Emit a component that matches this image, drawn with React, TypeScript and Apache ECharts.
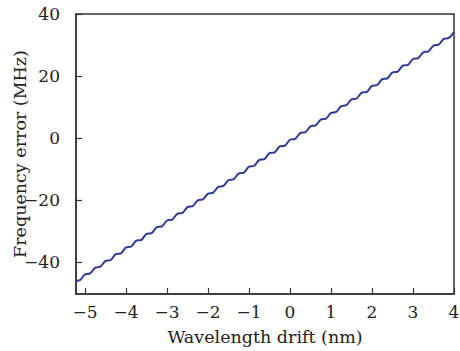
import React, { useEffect, useRef } from "react";
import * as echarts from "echarts";

const wavelength: number[] = [
  -5.25, -5.125, -5.0, -4.875, -4.75, -4.625, -4.5, -4.375, -4.25, -4.125,
  -4.0, -3.875, -3.75, -3.625, -3.5, -3.375, -3.25, -3.125, -3.0, -2.875,
  -2.75, -2.625, -2.5, -2.375, -2.25, -2.125, -2.0, -1.875, -1.75, -1.625,
  -1.5, -1.375, -1.25, -1.125, -1.0, -0.875, -0.75, -0.625, -0.5, -0.375,
  -0.25, -0.125, 0.0, 0.125, 0.25, 0.375, 0.5, 0.625, 0.75, 0.875,
  1.0, 1.125, 1.25, 1.375, 1.5, 1.625, 1.75, 1.875, 2.0, 2.125,
  2.25, 2.375, 2.5, 2.625, 2.75, 2.875, 3.0, 3.125, 3.25, 3.375,
  3.5, 3.625, 3.75, 3.875, 4.0,
];

const freqError: number[] = [
  -46.22, -45.94, -44.05, -43.76, -41.88, -41.59, -39.7, -39.42, -37.53, -37.25,
  -35.36, -35.07, -33.19, -32.9, -31.01, -30.73, -28.84, -28.56, -26.67, -26.38,
  -24.5, -24.21, -22.32, -22.04, -20.15, -19.87, -17.98, -17.69, -15.81, -15.52,
  -13.63, -13.35, -11.46, -11.18, -9.29, -9.0, -7.12, -6.83, -4.94, -4.66,
  -2.77, -2.49, -0.6, -0.31, 1.57, 1.86, 3.75, 4.03, 5.92, 6.2,
  8.09, 8.38, 10.26, 10.55, 12.44, 12.72, 14.61, 14.89, 16.78, 17.07,
  18.95, 19.24, 21.13, 21.41, 23.3, 23.58, 25.47, 25.76, 27.64, 27.93,
  29.82, 30.1, 31.99, 32.27, 34.16,
];

const xTicks: number[] = [-5, -4, -3, -2, -1, 0, 1, 2, 3, 4];
const yTicks: number[] = [-40, -20, 0, 20, 40];
const yTitle = "Frequency error (MHz)";

const FONT = "'DejaVu Serif', 'Liberation Serif', serif";
const AXIS_COLOR = "#333333";

const fmt = (v: number | string) => String(v).replace("-", "\u2212");

export default function App() {
  const ref = useRef<HTMLDivElement>(null);

  useEffect(() => {
    if (!ref.current) return;
    const chart = echarts.init(ref.current, undefined, { renderer: "svg" });
    chart.setOption({
      animation: false,
      backgroundColor: "#ffffff",
      grid: {
        left: 76,
        right: 6,
        top: 14,
        bottom: 57,
        containLabel: false,
        outerBoundsMode: "none",
        show: true,
        borderColor: AXIS_COLOR,
        borderWidth: 1.5,
        backgroundColor: "transparent",
      },
      graphic: [
        {
          type: "text",
          x: 20,
          y: 154,
          rotation: Math.PI / 2,
          style: {
            text: yTitle,
            fontFamily: FONT,
            fontSize: 17.5,
            fill: "#222",
            align: "center",
            verticalAlign: "middle",
          },
        },
      ],
      xAxis: {
        type: "value",
        min: -5.22,
        max: 4,
        name: "Wavelength drift (nm)",
        nameLocation: "middle",
        nameGap: 34,
        nameTextStyle: { fontFamily: FONT, fontSize: 17.5, color: "#222" },
        axisLine: { show: true, onZero: false, lineStyle: { color: AXIS_COLOR, width: 1.5 } },
        axisTick: {
          show: true,
          inside: true,
          length: 6,
          customValues: xTicks,
          lineStyle: { color: AXIS_COLOR, width: 1.2 },
        },
        axisLabel: {
          customValues: xTicks,
          formatter: (v: number) => fmt(v),
          fontFamily: FONT,
          fontSize: 17,
          color: "#222",
          margin: 9,
          showMinLabel: true,
          showMaxLabel: true,
        },
        splitLine: { show: false },
      },
      yAxis: {
        type: "value",
        min: -50.4,
        max: 40,
        axisLine: { show: true, onZero: false, lineStyle: { color: AXIS_COLOR, width: 1.5 } },
        axisTick: {
          show: true,
          inside: true,
          length: 6,
          customValues: yTicks,
          lineStyle: { color: AXIS_COLOR, width: 1.2 },
        },
        axisLabel: {
          customValues: yTicks,
          formatter: (v: number) => fmt(v),
          fontFamily: FONT,
          fontSize: 17,
          color: "#222",
          margin: 16,
          showMinLabel: true,
          showMaxLabel: true,
        },
        splitLine: { show: false },
      },
      series: [
        {
          type: "line",
          data: wavelength.map((x, i) => [x, freqError[i]]),
          showSymbol: false,
          symbol: "none",
          smooth: 0.35,
          clip: true,
          lineStyle: { color: "#2f3b98", width: 2 },
        },
      ],
    });
    return () => chart.dispose();
  }, []);

  return (
    <div
      ref={ref}
      style={{ position: "fixed", left: 0, top: 0, width: 460, height: 351 }}
    />
  );
}
